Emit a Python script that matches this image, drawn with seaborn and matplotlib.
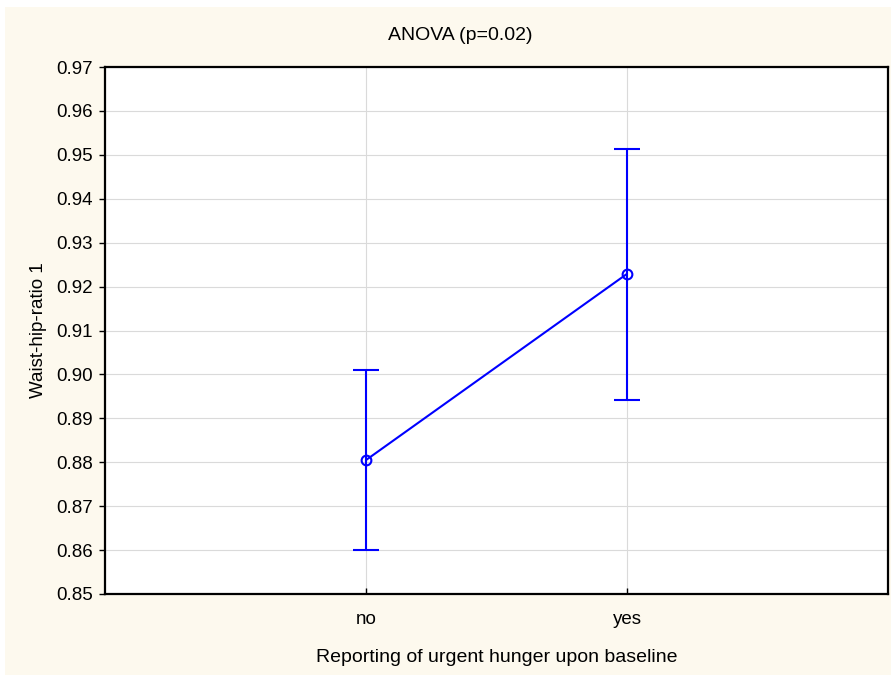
import matplotlib
matplotlib.use("Agg")
import matplotlib.pyplot as plt
import seaborn as sns
import pandas as pd
from matplotlib.patches import Rectangle

# Group means with lower/upper confidence limits
groups = ["no", "yes"]
means = [0.8805, 0.9229]
lower = [0.8600, 0.8942]
upper = [0.9010, 0.9514]
y_ticks = [0.85, 0.86, 0.87, 0.88, 0.89, 0.90, 0.91, 0.92, 0.93, 0.94, 0.95, 0.96, 0.97]

sns.set_theme(style="white")
plt.rcParams["font.family"] = ["Liberation Sans", "DejaVu Sans"]

df = pd.DataFrame({"group": groups, "mean": means, "lo": lower, "hi": upper})
df["x"] = range(len(groups))

fig = plt.figure(figsize=(8.96, 6.8), dpi=100)
fig.patch.set_facecolor("white")
fig.patches.append(Rectangle((5 / 896, 1 - 675 / 680), 886 / 896, 668 / 680,
                             transform=fig.transFigure, facecolor="#FDF9EE",
                             edgecolor="none", zorder=-10))

ax = fig.add_axes([105 / 896, 1 - 594 / 680, 783 / 896, 527 / 680])
ax.set_facecolor("white")

blue = "#0000FF"
ax.errorbar(df["x"], df["mean"],
            yerr=[df["mean"] - df["lo"], df["hi"] - df["mean"]],
            fmt="none", ecolor=blue, elinewidth=1.5, capsize=9.4, capthick=1.5, zorder=3)
sns.lineplot(data=df, x="x", y="mean", ax=ax, color=blue, linewidth=1.5,
             marker="o", markersize=7, markerfacecolor="none",
             markeredgecolor=blue, markeredgewidth=1.5, zorder=4)

ax.set_xlim(-1, 2)
ax.set_ylim(0.85, 0.97)
ax.set_xticks(df["x"])
ax.set_xticklabels(groups)
ax.set_yticks(y_ticks)
ax.set_yticklabels([f"{t:.2f}" for t in y_ticks])

ax.grid(True, color="#DADADA", linewidth=0.8)
ax.set_axisbelow(True)

for side in ["top", "bottom", "left", "right"]:
    ax.spines[side].set_visible(True)
    ax.spines[side].set_color("black")
    ax.spines[side].set_linewidth(1.6)

ax.tick_params(axis="y", direction="out", length=4, width=1, labelsize=13.5,
               left=True, colors="black", pad=5)
ax.tick_params(axis="x", direction="in", length=4, width=1, labelsize=13.5,
               bottom=True, colors="black", pad=12)
for lbl in ax.get_xticklabels() + ax.get_yticklabels():
    lbl.set_color("black")

ax.set_xlabel("Reporting of urgent hunger upon baseline", fontsize=14,
              color="black", labelpad=15)
ax.set_ylabel("Waist-hip-ratio 1", fontsize=13.5, color="black", labelpad=6)
fig.text(460 / 896, 1 - 35 / 680, "ANOVA (p=0.02)", ha="center", va="center",
         fontsize=14, color="black")

fig.savefig("out.png", dpi=100)
